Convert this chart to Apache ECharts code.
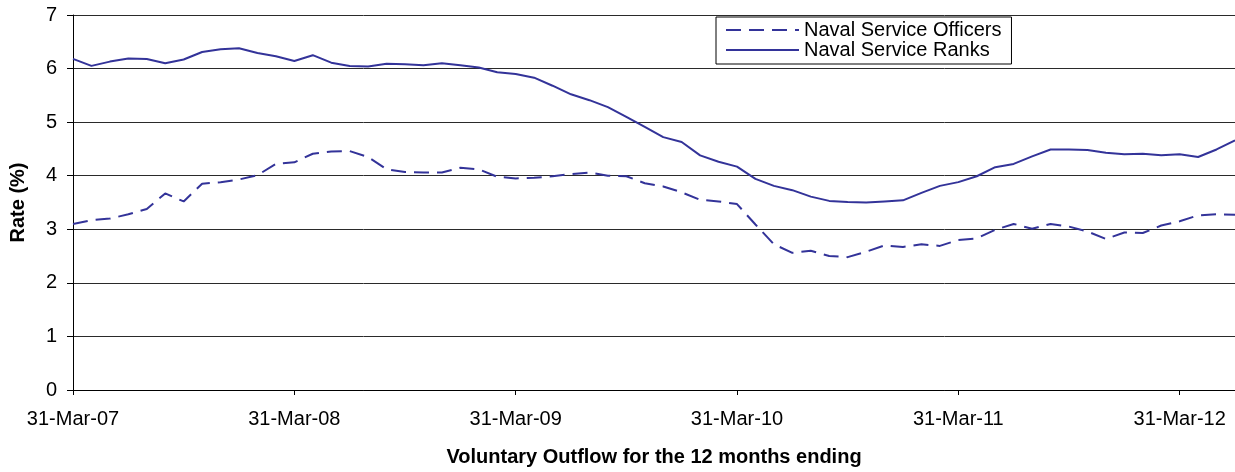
<!DOCTYPE html>
<html>
<head>
<meta charset="utf-8">
<script src="https://cdn.jsdelivr.net/npm/echarts@6/dist/echarts.min.js"></script>
<style>
html,body{margin:0;padding:0;background:#fff;}
#chart{width:1235px;height:472px;}
</style>
</head>
<body>
<div id="chart"></div>
<script>
const categories = [
"31-Mar-07","30-Apr-07","31-May-07","30-Jun-07","31-Jul-07","31-Aug-07","30-Sep-07","31-Oct-07","30-Nov-07","31-Dec-07","31-Jan-08","29-Feb-08",
"31-Mar-08","30-Apr-08","31-May-08","30-Jun-08","31-Jul-08","31-Aug-08","30-Sep-08","31-Oct-08","30-Nov-08","31-Dec-08","31-Jan-09","28-Feb-09",
"31-Mar-09","30-Apr-09","31-May-09","30-Jun-09","31-Jul-09","31-Aug-09","30-Sep-09","31-Oct-09","30-Nov-09","31-Dec-09","31-Jan-10","28-Feb-10",
"31-Mar-10","30-Apr-10","31-May-10","30-Jun-10","31-Jul-10","31-Aug-10","30-Sep-10","31-Oct-10","30-Nov-10","31-Dec-10","31-Jan-11","28-Feb-11",
"31-Mar-11","30-Apr-11","31-May-11","30-Jun-11","31-Jul-11","31-Aug-11","30-Sep-11","31-Oct-11","30-Nov-11","31-Dec-11","31-Jan-12","29-Feb-12",
"31-Mar-12","30-Apr-12","31-May-12","30-Jun-12"
];
const officers = [
3.10,3.17,3.20,3.28,3.38,3.67,3.52,3.85,3.88,3.93,4.01,4.22,
4.25,4.41,4.45,4.46,4.35,4.12,4.07,4.06,4.06,4.15,4.12,3.98,
3.95,3.96,3.99,4.03,4.06,4.00,3.99,3.86,3.80,3.69,3.55,3.52,
3.47,3.09,2.72,2.56,2.60,2.50,2.48,2.58,2.70,2.67,2.72,2.69,
2.80,2.83,2.99,3.10,3.01,3.10,3.05,2.96,2.82,2.94,2.93,3.07,
3.15,3.26,3.28,3.27
];
const ranks = [
6.18,6.05,6.13,6.19,6.18,6.10,6.17,6.31,6.36,6.38,6.29,6.23,
6.14,6.25,6.11,6.05,6.04,6.09,6.08,6.06,6.10,6.06,6.02,5.93,
5.90,5.83,5.68,5.52,5.41,5.28,5.10,4.91,4.72,4.63,4.38,4.26,
4.17,3.94,3.81,3.73,3.61,3.53,3.51,3.50,3.52,3.54,3.68,3.81,
3.88,3.99,4.16,4.22,4.36,4.49,4.49,4.48,4.43,4.40,4.41,4.38,
4.40,4.35,4.49,4.66
];
const seriesNames = ["Naval Service Officers","Naval Service Ranks"];
const yTicks = [0,1,2,3,4,5,6,7];

const FONT = "'Liberation Sans', Arial, sans-serif";
const LINE_COLOR = "#333399";
const chart = echarts.init(document.getElementById('chart'), null, {renderer:'canvas'});
chart.setOption({
  animation:false,
  backgroundColor:'#fff',
  textStyle:{fontFamily:FONT},
  grid:{left:73, right:0, top:15, bottom:79, containLabel:false},
  legend:{
    orient:'vertical', left:716, top:17,
    padding:[3,10,4,9], itemGap:0, itemWidth:73, itemHeight:14,
    borderColor:'#000', borderWidth:1, backgroundColor:'#fff',
    itemStyle:{opacity:0},
    textStyle:{fontFamily:FONT, fontSize:20, color:'#000', lineHeight:20},
    data:seriesNames
  },
  xAxis:{
    type:'category', data:categories, boundaryGap:false,
    name:'Voluntary Outflow for the 12 months ending',
    nameLocation:'middle', nameGap:57,
    nameTextStyle:{fontFamily:FONT, fontSize:20, fontWeight:'bold', color:'#000'},
    axisLine:{lineStyle:{color:'#000', width:1}},
    axisTick:{show:true, interval:11, length:5, lineStyle:{color:'#000'}},
    axisLabel:{interval:11, fontFamily:FONT, fontSize:20, color:'#000', margin:19},
    splitLine:{show:false}
  },
  yAxis:{
    type:'value', min:yTicks[0], max:yTicks[yTicks.length-1], interval:1,
    name:'Rate (%)', nameLocation:'middle', nameGap:45, nameRotate:90,
    nameTextStyle:{fontFamily:FONT, fontSize:20, fontWeight:'bold', color:'#000'},
    axisLine:{show:true, lineStyle:{color:'#000', width:1}},
    axisTick:{show:true, length:6, lineStyle:{color:'#000'}},
    axisLabel:{fontFamily:FONT, fontSize:20, color:'#000', margin:16},
    splitLine:{show:true, lineStyle:{color:'#2a2a2a', width:1}}
  },
  series:[
    {name:seriesNames[0], type:'line', data:officers, symbol:'none', showSymbol:false,
     lineStyle:{color:LINE_COLOR, width:2, type:[15,8]}, itemStyle:{color:LINE_COLOR}},
    {name:seriesNames[1], type:'line', data:ranks, symbol:'none', showSymbol:false,
     lineStyle:{color:LINE_COLOR, width:2, type:'solid'}, itemStyle:{color:LINE_COLOR}}
  ]
});
</script>
</body>
</html>
